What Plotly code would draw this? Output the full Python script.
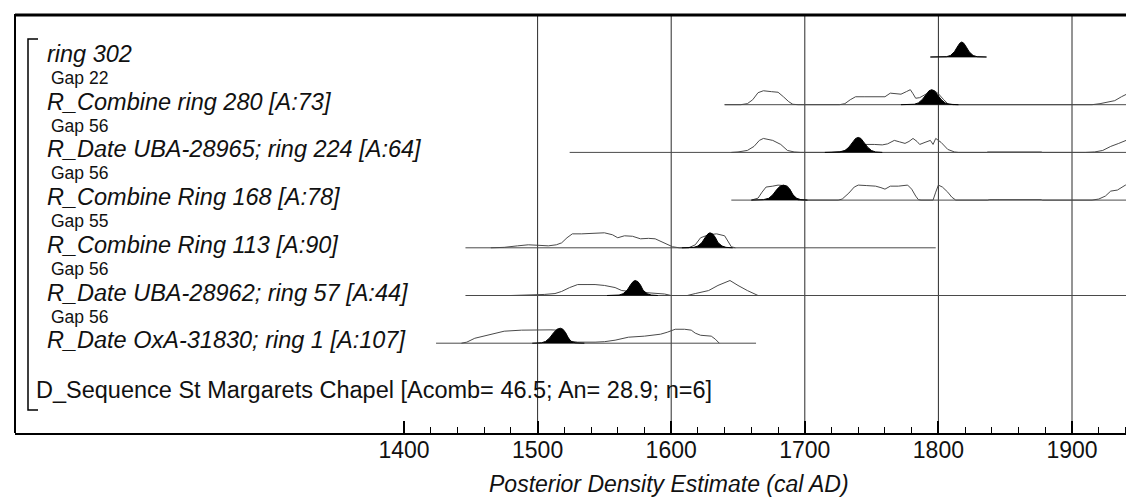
import plotly.graph_objects as go

# ---------------- data ----------------
labels = [
    "ring 302",
    "R_Combine ring 280 [A:73]",
    "R_Date UBA-28965; ring 224 [A:64]",
    "R_Combine Ring 168 [A:78]",
    "R_Combine Ring 113 [A:90]",
    "R_Date UBA-28962; ring 57 [A:44]",
    "R_Date OxA-31830; ring 1 [A:107]",
]
gaps = ["Gap 22", "Gap 56", "Gap 56", "Gap 55", "Gap 56", "Gap 56"]
sequence_label = "D_Sequence St Margarets Chapel [Acomb= 46.5; An= 28.9; n=6]"
axis_title = "Posterior Density Estimate (cal AD)"
tick_years = [1400, 1500, 1600, 1700, 1800, 1900]
minor_years = [1420, 1440, 1460, 1480, 1520, 1540, 1560, 1580, 1620, 1640, 1660, 1680,
               1720, 1740, 1760, 1780, 1820, 1840, 1860, 1880, 1920, 1940]
grid_years = [1500, 1600, 1700, 1800, 1900]

# range of each row's baseline (cal AD)
row_start = [1794, 1640, 1524, 1645, 1446, 1446, 1424]
row_end = [1836, 1953, 1953, 1953, 1798, 1953, 1663.5]

# prior (unmodelled) outlines: years and relative density
prior_years = [
    [],
    [1640, 1652, 1657, 1661, 1665, 1669, 1675, 1680, 1684, 1688, 1691, 1695, 1726, 1730, 1734, 1738,
     1745, 1755, 1760, 1764, 1768, 1772, 1776, 1779, 1781, 1783, 1786, 1790, 1794, 1797, 1800, 1804,
     1807, 1811, 1915, 1921, 1927, 1932, 1937, 1942, 1946, 1951, 1951.3],
    [1645, 1650, 1657, 1662, 1666, 1669, 1676, 1682, 1687, 1692, 1697, 1720, 1728, 1735, 1740, 1745,
     1752, 1758, 1762, 1767, 1771, 1775, 1778, 1781, 1784, 1786, 1790, 1794, 1796, 1798, 1802, 1807,
     1812, 1815, 1836, 1837, 1877, 1878, 1910, 1917, 1923, 1929, 1935, 1940, 1944, 1947, 1951, 1951.3],
    [1660, 1665, 1668, 1671, 1676, 1680, 1684, 1687, 1690, 1693, 1695, 1725, 1728, 1733, 1737, 1740,
     1746, 1753, 1757, 1760, 1764, 1770, 1777, 1780, 1783, 1785, 1787, 1796, 1798, 1800, 1803, 1807,
     1810, 1813, 1837, 1838, 1877, 1878, 1915, 1920, 1925, 1929, 1934, 1937, 1940, 1944, 1948, 1951, 1951.3],
    [1465, 1475, 1485, 1493, 1500, 1508, 1514, 1518, 1522, 1526, 1533, 1542, 1550, 1556, 1560, 1565,
     1571, 1577, 1583, 1588, 1593, 1597, 1601, 1606, 1613, 1618, 1622, 1628, 1634, 1640, 1642, 1645, 1648],
    [1480, 1493, 1505, 1513, 1518, 1524, 1530, 1537, 1543, 1550, 1558, 1563, 1568, 1575, 1580, 1588,
     1595, 1600, 1612, 1618, 1628, 1635, 1640, 1644, 1650, 1657, 1665, 1784, 1788, 1795, 1798],
    [1443, 1447, 1453, 1463, 1475, 1488, 1498, 1505, 1510, 1515, 1520, 1525, 1530, 1543, 1550, 1558,
     1568, 1580, 1586, 1592, 1597, 1603, 1610, 1615, 1618, 1622, 1630, 1633, 1636],
]
prior_dens = [
    [],
    [0, 0, 0.07, 0.33, 0.8, 0.93, 0.87, 0.83, 0.53, 0.2, 0.03, 0, 0, 0.07, 0.33, 0.53,
     0.53, 0.5, 0.53, 0.77, 0.73, 0.7, 0.87, 1.0, 0.73, 0.43, 0.47, 0.67, 0.87, 0.93, 0.73, 0.33,
     0.07, 0, 0, 0.07, 0.2, 0.27, 0.53, 0.73, 0.93, 0.93, 0],
    [0, 0.03, 0.13, 0.4, 0.8, 0.93, 0.8, 0.53, 0.13, 0.03, 0, 0, 0.07, 0.27, 0.47, 0.53,
     0.53, 0.5, 0.57, 0.8, 0.7, 0.6, 0.73, 0.93, 0.73, 0.53, 0.67, 0.8, 0.53, 0.93, 0.67, 0.2,
     0.03, 0, 0, 0.03, 0.03, 0, 0, 0.03, 0.13, 0.4, 0.6, 0.8, 0.93, 1.0, 1.0, 0],
    [0, 0.13, 0.53, 0.87, 0.93, 1.0, 0.97, 0.93, 0.53, 0.13, 0, 0, 0.07, 0.47, 0.87, 1.0,
     0.97, 0.93, 0.83, 0.73, 0.93, 0.93, 1.0, 0.73, 0.27, 0.03, 0, 0, 0.53, 1.0, 0.87, 0.53,
     0.2, 0, 0, 0.03, 0.03, 0, 0, 0.07, 0.27, 0.6, 0.67, 0.83, 1.0, 0.9, 0.6, 0.4, 0],
    [0, 0.03, 0.13, 0.2, 0.17, 0.13, 0.2, 0.33, 0.67, 0.93, 0.93, 0.97, 1.0, 0.87, 0.67, 0.8,
     0.77, 0.6, 0.63, 0.6, 0.4, 0.23, 0.07, 0, 0, 0.2, 0.67, 0.87, 0.93, 0.8, 0.53, 0.07, 0],
    [0, 0.03, 0.07, 0.13, 0.27, 0.53, 0.73, 0.73, 0.73, 0.67, 0.53, 0.33, 0.27, 0.23, 0.2, 0.13,
     0.1, 0, 0, 0.13, 0.33, 0.67, 0.87, 1.0, 0.67, 0.33, 0, 0, 0.05, 0.05, 0],
    [0, 0.07, 0.33, 0.53, 0.8, 0.87, 0.9, 0.9, 0.89, 0.87, 0.67, 0.13, 0.07, 0.07, 0.1, 0.2,
     0.4, 0.47, 0.53, 0.6, 0.73, 0.93, 0.93, 0.87, 0.67, 0.53, 0.47, 0.27, 0],
]

# modelled posteriors (filled): years and relative density
post_years = [
    [1794, 1806, 1809, 1812, 1814, 1816, 1817.5, 1819, 1821, 1823, 1826, 1829, 1836],
    [1772, 1782, 1785, 1788, 1791, 1793, 1795, 1797, 1799, 1802, 1805, 1808, 1815],
    [1715, 1726, 1730, 1733, 1736, 1738, 1740, 1742, 1744, 1747, 1750, 1753, 1758],
    [1660, 1669, 1673, 1676, 1679, 1681.5, 1684, 1686.5, 1689, 1691, 1694, 1697, 1702],
    [1608, 1617, 1620, 1623, 1625.5, 1627.5, 1629, 1631, 1633, 1635, 1638, 1641, 1646],
    [1552, 1561, 1564, 1567, 1569.5, 1571.5, 1573, 1575, 1577, 1579, 1582, 1585, 1590],
    [1496, 1503, 1506, 1509, 1512, 1514.5, 1517, 1519, 1521, 1523, 1525, 1528, 1535],
]
post_dens = [
    [0, 0.02, 0.1, 0.35, 0.65, 0.92, 1.0, 0.92, 0.65, 0.35, 0.1, 0.02, 0],
    [0, 0.03, 0.12, 0.35, 0.7, 0.93, 1.0, 0.93, 0.7, 0.35, 0.12, 0.03, 0],
    [0, 0.03, 0.12, 0.35, 0.7, 0.93, 1.0, 0.93, 0.7, 0.35, 0.12, 0.03, 0],
    [0, 0.03, 0.12, 0.35, 0.7, 0.93, 1.0, 0.93, 0.7, 0.35, 0.12, 0.03, 0],
    [0, 0.03, 0.12, 0.35, 0.7, 0.93, 1.0, 0.93, 0.7, 0.35, 0.12, 0.03, 0],
    [0, 0.03, 0.12, 0.35, 0.7, 0.93, 1.0, 0.93, 0.7, 0.35, 0.12, 0.03, 0],
    [0, 0.03, 0.12, 0.35, 0.7, 0.93, 1.0, 0.93, 0.7, 0.35, 0.12, 0.03, 0],
]

# ---------------- layout constants (pixels) ----------------
W, H = 1134, 497
L_MARGIN = 7
AXIS_Y = 425              # pixel row of the time axis
FIRST_BASE = 49           # baseline of first row
ROW_STEP = 47.7
PEAK_PX = 15              # pixel height of density = 1
PX_1400 = 396
PX_PER_YEAR = 1.336

def px2year(px):
    return 1400 + (px - PX_1400) / PX_PER_YEAR

def px2paper(px):
    return (px - L_MARGIN) / (W - L_MARGIN)

FONT = "Liberation Sans, Arial, Helvetica, sans-serif"
x_min, x_max = px2year(L_MARGIN), px2year(W)

fig = go.Figure()

for i in range(len(labels)):
    base = FIRST_BASE + i * ROW_STEP
    fig.add_trace(go.Scatter(
        x=[row_start[i], min(row_end[i], x_max)], y=[base, base], mode="lines",
        line=dict(color="#4a4a4a", width=1), hoverinfo="skip", showlegend=False))
    if prior_years[i]:
        fig.add_trace(go.Scatter(
            x=prior_years[i], y=[base - d * PEAK_PX for d in prior_dens[i]], mode="lines",
            line=dict(color="#4a4a4a", width=1), hoverinfo="skip", showlegend=False))
    fig.add_trace(go.Scatter(
        x=post_years[i], y=[base - d * PEAK_PX for d in post_dens[i]], mode="lines",
        fill="toself", fillcolor="black", line=dict(color="black", width=1),
        hoverinfo="skip", showlegend=False))

shapes = []
for g in grid_years:
    shapes.append(dict(type="line", xref="x", yref="y", x0=g, x1=g, y0=7, y1=AXIS_Y,
                       line=dict(color="#2a2a2a", width=1), layer="below"))
shapes.append(dict(type="line", xref="paper", yref="y", x0=0, x1=1.01, y0=7, y1=7,
                   line=dict(color="black", width=3)))
shapes.append(dict(type="line", xref="paper", yref="y", x0=0, x1=0, y0=6, y1=AXIS_Y + 1,
                   line=dict(color="black", width=2)))
bx0, bx1 = px2paper(20), px2paper(30)
shapes.append(dict(type="path", xref="paper", yref="y",
                   path=f"M {bx1},31 L {bx0},31 L {bx0},402 L {bx1},402",
                   line=dict(color="black", width=1.5)))

annotations = []
for i, lab in enumerate(labels):
    base = FIRST_BASE + i * ROW_STEP
    annotations.append(dict(text=f"<i>{lab}</i>", xref="paper", yref="y", x=px2paper(37), y=base - 3,
                            xanchor="left", yanchor="middle", showarrow=False,
                            font=dict(size=23.5, color="#111", family=FONT)))
for i, gp in enumerate(gaps):
    base = FIRST_BASE + i * ROW_STEP
    annotations.append(dict(text=gp, xref="paper", yref="y", x=px2paper(41), y=base + 21,
                            xanchor="left", yanchor="middle", showarrow=False,
                            font=dict(size=17.5, color="#111", family=FONT)))
annotations.append(dict(text=sequence_label, xref="paper", yref="y", x=px2paper(26), y=382,
                        xanchor="left", yanchor="middle", showarrow=False,
                        font=dict(size=23.5, color="#111", family=FONT)))
annotations.append(dict(text=f"<i>{axis_title}</i>", xref="paper", yref="paper",
                        x=px2paper(661), y=-(476 - AXIS_Y) / AXIS_Y,
                        xanchor="center", yanchor="middle", showarrow=False,
                        font=dict(size=23, color="#111", family=FONT)))

fig.update_layout(
    width=W, height=H,
    margin=dict(l=L_MARGIN, r=0, t=0, b=H - AXIS_Y),
    paper_bgcolor="white", plot_bgcolor="white",
    shapes=shapes, annotations=annotations,
    xaxis=dict(range=[x_min, x_max], showgrid=False, zeroline=False,
               showline=True, linecolor="black", linewidth=2,
               ticks="inside", ticklen=12, tickwidth=2, tickcolor="black",
               tickmode="array", tickvals=tick_years, ticktext=[str(t) for t in tick_years],
               tickfont=dict(size=23, color="#111", family=FONT),
               ticklabelstandoff=-5,
               minor=dict(ticks="inside", ticklen=6, tickwidth=1, tickcolor="black",
                          tickmode="array", tickvals=minor_years, showgrid=False),
               fixedrange=True),
    yaxis=dict(range=[AXIS_Y, 0], visible=False, fixedrange=True),
    showlegend=False,
)

fig.write_html("out.html")
